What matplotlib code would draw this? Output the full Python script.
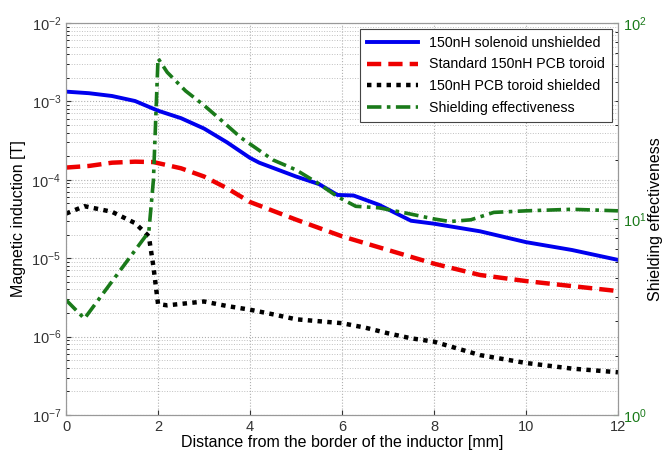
import matplotlib
matplotlib.use('Agg')
import matplotlib.pyplot as plt

plt.rcParams['font.family'] = ['Liberation Sans', 'DejaVu Sans']
plt.rcParams['mathtext.default'] = 'regular'

# distance [mm]
x_sol = [0, 0.5, 1, 1.5, 2, 2.5, 3, 3.5, 4, 4.2, 5, 5.5, 5.9, 6.25, 6.8, 7.5, 8, 9, 10, 11, 12]
b_sol = [1.33e-3, 1.27e-3, 1.17e-3, 1.01e-3, 7.6e-4, 6.1e-4, 4.5e-4, 3.0e-4, 1.9e-4, 1.65e-4,
         1.1e-4, 8.8e-5, 6.4e-5, 6.3e-5, 4.8e-5, 3.0e-5, 2.75e-5, 2.2e-5, 1.6e-5, 1.27e-5, 9.5e-6]

x_pcb = [0, 0.5, 1, 1.5, 1.9, 2.5, 3, 3.5, 4, 5, 6, 7, 8, 9, 10, 11, 12]
b_pcb = [1.43e-4, 1.5e-4, 1.65e-4, 1.7e-4, 1.68e-4, 1.4e-4, 1.1e-4, 7.8e-5, 5.2e-5, 3.1e-5,
         1.9e-5, 1.27e-5, 8.5e-6, 6.1e-6, 5.1e-6, 4.4e-6, 3.8e-6]

x_shd = [0, 0.4, 1, 1.5, 1.8, 1.9, 2.0, 2.2, 3, 3.5, 4, 4.5, 5, 6, 6.5, 7, 7.5, 8, 9, 10, 11, 12]
b_shd = [3.7e-5, 4.6e-5, 3.9e-5, 2.8e-5, 1.9e-5, 7.8e-6, 2.6e-6, 2.5e-6, 2.8e-6, 2.45e-6, 2.2e-6,
         1.92e-6, 1.66e-6, 1.48e-6, 1.3e-6, 1.1e-6, 9.5e-7, 8.6e-7, 5.8e-7, 4.6e-7, 3.9e-7, 3.5e-7]

x_se = [0, 0.4, 1.8, 1.9, 2.0, 2.2, 2.6, 3.0, 3.4, 3.8, 4.5, 5, 5.5, 5.9, 6.3, 6.8, 7.4, 8.0,
        8.35, 8.8, 9.3, 10, 11, 12]
se = [3.86, 3.1, 8.6, 15.8, 66, 56, 45, 38, 31.5, 26, 20, 17.8, 15.1, 13, 11.6, 11.4, 10.7, 10.0,
      9.7, 9.9, 10.8, 11, 11.2, 11]

fig = plt.figure(figsize=(6.67, 4.59), dpi=100)
ax = fig.add_axes([0.099, 0.096, 0.8275, 0.854])
ax2 = ax.twinx()

l1, = ax.plot(x_sol, b_sol, color='#0000ee', lw=2.8, label='150nH solenoid unshielded')
l2, = ax.plot(x_pcb, b_pcb, color='#ee0000', lw=3.2, ls=(0, (3.2, 1.6)),
              label='Standard 150nH PCB toroid')
l3, = ax.plot(x_shd, b_shd, color='black', lw=3.2, ls=(0, (1, 1.2)),
              label='150nH PCB toroid shielded')
l4, = ax2.plot(x_se, se, color='#1a7a1a', lw=2.6, ls=(0, (4, 1.5, 1, 1.5)),
               label='Shielding effectiveness')

ax.set_yscale('log')
ax.set_ylim(1e-7, 1e-2)
ax.set_xlim(0, 12)
ax.set_xticks([0, 2, 4, 6, 8, 10, 12])
ax2.set_yscale('log')
ax2.set_ylim(1, 100)

ax.grid(True, which='major', color='#b0b0b0', ls=':', lw=0.8)
ax.grid(True, which='minor', axis='y', color='#c0c0c0', ls=':', lw=0.7)

ax.tick_params(labelsize=10.5, colors='#333333', direction='in')
ax.tick_params(which='minor', direction='in')
ax2.tick_params(labelsize=10.5, colors='#1a7a1a', direction='in')
ax2.tick_params(which='minor', direction='in')
for a in (ax, ax2):
    for s in a.spines.values():
        s.set_color('#999999')

ax.set_xlabel('Distance from the border of the inductor [mm]', fontsize=11.5, labelpad=1)
ax.set_ylabel('Magnetic induction [T]', fontsize=11.5)
ax2.set_ylabel('Shielding effectiveness', fontsize=11.5, rotation=90, labelpad=1)

leg = ax2.legend(handles=[l1, l2, l3, l4], loc='upper right', fontsize=10.2,
                 fancybox=False, framealpha=1, edgecolor='#444444',
                 handlelength=3.6, borderaxespad=0.4, labelspacing=0.55,
                 borderpad=0.5)
leg.get_frame().set_linewidth(0.8)

fig.savefig('out.png', dpi=100)
